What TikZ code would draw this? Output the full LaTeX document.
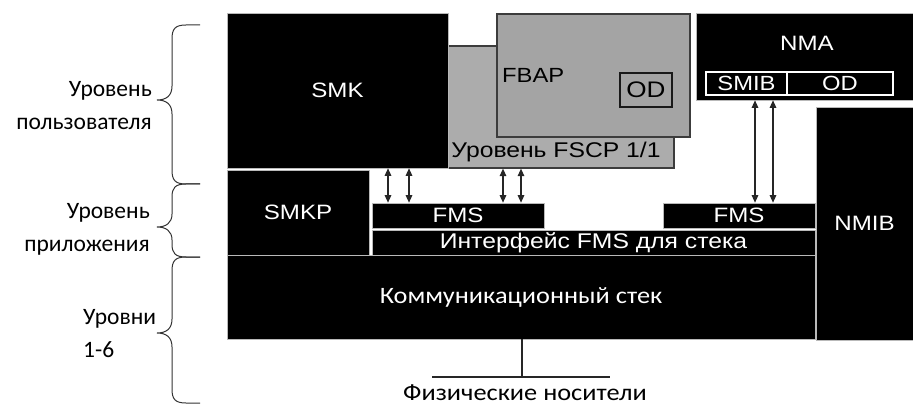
\documentclass[tikz,border=0pt]{standalone}
\usepackage{fontspec}
\setmainfont{Liberation Sans}[FakeStretch=1.16]
\newfontfamily\lab{Carlito}
\newfontfamily\labw{Carlito}[FakeStretch=1.12]
\usetikzlibrary{arrows.meta}
\definecolor{fscpgray}{RGB}{172,172,172}
\definecolor{fbapgray}{RGB}{164,164,164}
\definecolor{edgegray}{RGB}{60,60,60}
\begin{document}
\begin{tikzpicture}[x=1pt,y=-1pt,
  blk/.style={fill=black, draw=gray!55, line width=0.6pt, text=white, inner sep=0pt,
    font=\fontsize{20.8}{24}\selectfont},
  gbox/.style={draw=edgegray, line width=1.2pt, inner sep=0pt},
  wbox/.style={fill=black, draw=white, line width=1.2pt, text=white, inner sep=0pt,
    font=\fontsize{20.5}{24}\selectfont},
  dar/.style={{Triangle[length=7.5pt,width=6.5pt]}-{Triangle[length=7.5pt,width=6.5pt]}, line width=1.3pt, draw=black!85},
  lvl/.style={font=\lab\fontsize{23.5}{33}\selectfont, inner sep=0pt},
  brc/.style={line width=1pt, draw=black!80}
]
\useasboundingbox (0,0) rectangle (913,406);

% user level
\node[gbox, fill=fscpgray, minimum width=226pt, minimum height=122pt] (fscp) at (561,107) {};
\node[inner sep=0pt, font=\fontsize{21.3}{24}\selectfont] (fscplbl) at (556,152) {Уровень FSCP 1/1};
\node[gbox, fill=fbapgray, minimum width=193pt, minimum height=123pt] (fbap) at (593.5,75.5) {};
\node[anchor=west, inner sep=0pt, font=\fontsize{20.5}{24}\selectfont] (fbaplbl) at (502,75) {FBAP};
\node[gbox, draw=black!90, fill=fbapgray, minimum width=52pt, minimum height=34pt,
  font=\fontsize{22.5}{24}\selectfont] (od1) at (646,90) {OD};
\node[blk, minimum width=221pt, minimum height=155pt] (smk) at (337.5,90.5) {SMK};

\node[blk, minimum width=217pt, minimum height=87pt] (nma) at (804.5,56.5) {};
\node[inner sep=0pt, text=white, font=\fontsize{20.8}{24}\selectfont] (nmalbl) at (807,43) {NMA};
\node[wbox, minimum width=81pt, minimum height=23pt] (smib) at (746.5,83.5) {SMIB};
\node[wbox, minimum width=106pt, minimum height=23pt] (od2) at (840,83.5) {OD};
\node[blk, minimum width=97pt, minimum height=233pt] (nmib) at (864.5,223.5) {NMIB};

% application level
\node[blk, minimum width=142pt, minimum height=85pt] (smkp) at (298,212.5) {SMKP};
\node[blk, minimum width=172pt, minimum height=25pt] (fms1) at (458,215.5) {FMS};
\node[blk, minimum width=152pt, minimum height=25pt] (fms2) at (739,215.5) {FMS};
\node[blk, minimum width=443pt, minimum height=25pt, font=\fontsize{21.3}{24}\selectfont] (intf) at (593.5,242.5) {Интерфейс FMS для стека};

% stack
\node[blk, minimum width=588pt, minimum height=84pt, font=\labw\fontsize{23.5}{26}\selectfont] (comm) at (521,297) {Коммуникационный стек};

% arrows
\draw[dar] (388,0 |- smk.south) -- (388,0 |- fms1.north);
\draw[dar] (409,0 |- smk.south) -- (409,0 |- fms1.north);
\draw[dar] (503,0 |- fscp.south) -- (503,0 |- fms1.north);
\draw[dar] (521,0 |- fscp.south) -- (521,0 |- fms1.north);
\draw[dar] (755,0 |- nma.south) -- (755,0 |- fms2.north);
\draw[dar] (773,0 |- nma.south) -- (773,0 |- fms2.north);

% physical media
\coordinate (mj) at (522,377);
\coordinate (ml) at (432,377);
\coordinate (mr) at (610,377);
\draw[line width=1.6pt, draw=black!85] (522,0 |- comm.south) -- (mj);
\draw[line width=1.8pt, draw=black!85] (ml) -- (mr);
\node[inner sep=0pt, font=\labw\fontsize{23.5}{26}\selectfont] (media) at (525,393) {Физические носители};

% braces
\draw[brc] (200,25) -- (186,25) .. controls (175,25) and (172,29) .. (172,39) -- (172,86)
  .. controls (172,96) and (166,100) .. (157,100) .. controls (166,100) and (172,104) .. (172,114)
  -- (172,170) .. controls (172,180) and (175,184) .. (186,184) -- (200,184);
\draw[brc] (200,184) -- (186,184) .. controls (175,184) and (172,188) .. (172,197) -- (172,214)
  .. controls (172,223) and (166,227) .. (157,227) .. controls (166,227) and (172,231) .. (172,240)
  -- (172,244) .. controls (172,253) and (175,257) .. (186,257) -- (200,257);
\draw[brc] (200,257) -- (186,257) .. controls (175,257) and (172,261) .. (172,271) -- (172,319)
  .. controls (172,329) and (166,333) .. (157,333) .. controls (166,333) and (172,337) .. (172,347)
  -- (172,389) .. controls (172,399) and (175,403) .. (186,403) -- (200,403);

\node[lvl, align=right, anchor=east] (l1) at (152,106) {Уровень\\пользователя};
\node[lvl, align=right, anchor=east] (l2) at (150,229) {Уровень\\приложения};
\node[lvl, align=left, anchor=west] (l3) at (83,334) {Уровни\\1-6};
\end{tikzpicture}
\end{document}
